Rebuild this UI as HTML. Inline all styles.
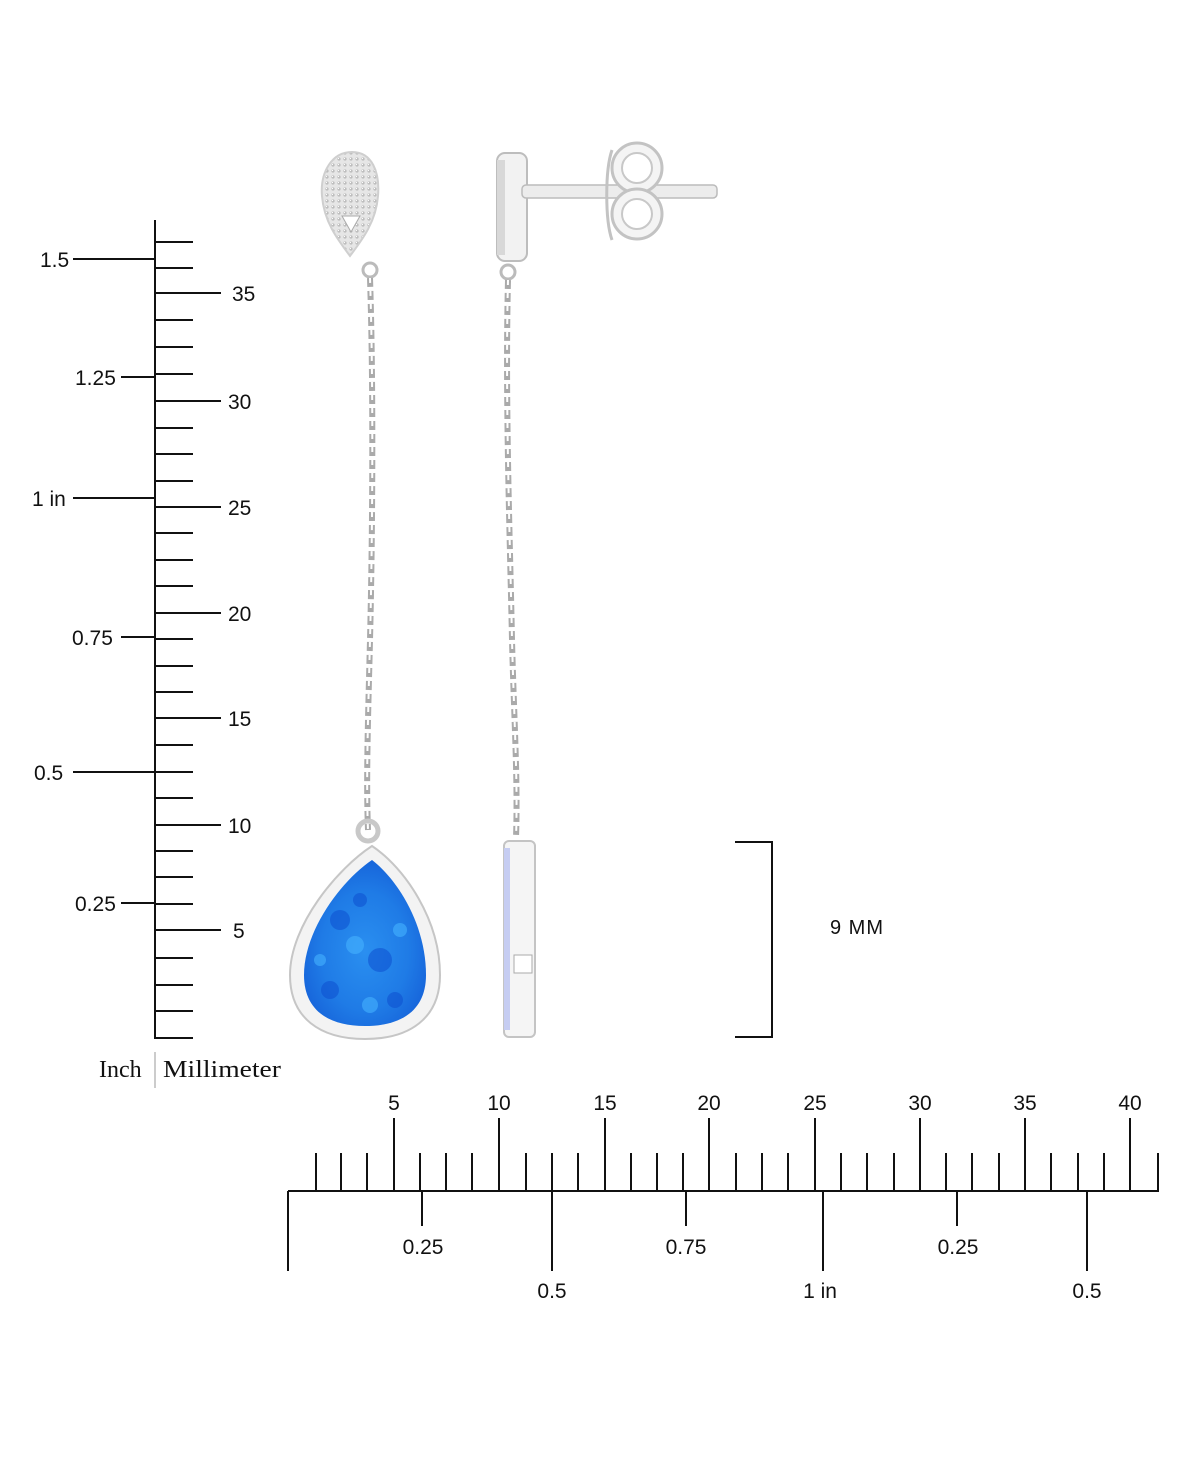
<!DOCTYPE html>
<html><head><meta charset="utf-8"><style>
html,body{margin:0;padding:0;background:#fff}
svg{display:block}
text{font-family:"Liberation Sans",sans-serif;fill:#111}
</style></head><body>
<svg width="1200" height="1467" viewBox="0 0 1200 1467" xmlns="http://www.w3.org/2000/svg">
<defs>
<radialGradient id="opal" cx="50%" cy="55%" r="60%">
<stop offset="0" stop-color="#2a8ff0"/><stop offset="0.6" stop-color="#1f7be6"/><stop offset="1" stop-color="#1560d8"/>
</radialGradient>
<pattern id="pave" width="6" height="6" patternUnits="userSpaceOnUse">
<rect width="6" height="6" fill="#e6e6e6"/><circle cx="3" cy="3" r="1.6" fill="#bdbdbd"/><circle cx="2.5" cy="2.5" r="0.6" fill="#fff"/>
</pattern>
</defs>

<g stroke="#111" stroke-width="2">
<line x1="155" y1="220" x2="155" y2="1039"/>
<g>
<line x1="155" y1="1038" x2="193" y2="1038"/><line x1="155" y1="1011" x2="193" y2="1011"/><line x1="155" y1="985" x2="193" y2="985"/><line x1="155" y1="958" x2="193" y2="958"/>
<line x1="155" y1="904" x2="193" y2="904"/><line x1="155" y1="877" x2="193" y2="877"/><line x1="155" y1="851" x2="193" y2="851"/>
<line x1="155" y1="798" x2="193" y2="798"/><line x1="155" y1="772" x2="193" y2="772"/><line x1="155" y1="745" x2="193" y2="745"/>
<line x1="155" y1="692" x2="193" y2="692"/><line x1="155" y1="666" x2="193" y2="666"/><line x1="155" y1="639" x2="193" y2="639"/>
<line x1="155" y1="586" x2="193" y2="586"/><line x1="155" y1="560" x2="193" y2="560"/><line x1="155" y1="533" x2="193" y2="533"/>
<line x1="155" y1="481" x2="193" y2="481"/><line x1="155" y1="454" x2="193" y2="454"/><line x1="155" y1="428" x2="193" y2="428"/>
<line x1="155" y1="374" x2="193" y2="374"/><line x1="155" y1="347" x2="193" y2="347"/><line x1="155" y1="320" x2="193" y2="320"/>
<line x1="155" y1="268" x2="193" y2="268"/><line x1="155" y1="242" x2="193" y2="242"/>
</g>
<line x1="155" y1="930" x2="221" y2="930"/><line x1="155" y1="825" x2="221" y2="825"/><line x1="155" y1="718" x2="221" y2="718"/>
<line x1="155" y1="613" x2="221" y2="613"/><line x1="155" y1="507" x2="221" y2="507"/><line x1="155" y1="401" x2="221" y2="401"/><line x1="155" y1="293" x2="221" y2="293"/>
<line x1="73" y1="259" x2="155" y2="259"/><line x1="121" y1="377" x2="155" y2="377"/><line x1="73" y1="498" x2="155" y2="498"/>
<line x1="121" y1="637" x2="155" y2="637"/><line x1="73" y1="772" x2="155" y2="772"/><line x1="121" y1="903" x2="155" y2="903"/>
</g>
<g font-size="21">
<text x="232" y="301">35</text><text x="228" y="409">30</text><text x="228" y="515">25</text><text x="228" y="621">20</text>
<text x="228" y="726">15</text><text x="228" y="833">10</text><text x="233" y="938">5</text>
<text x="40" y="267">1.5</text><text x="75" y="385">1.25</text><text x="32" y="506">1 in</text>
<text x="72" y="645">0.75</text><text x="34" y="780">0.5</text><text x="75" y="911">0.25</text>
</g>
<text x="99" y="1077" font-size="24" style="font-family:'Liberation Serif',serif">Inch</text>
<line x1="155" y1="1052" x2="155" y2="1088" stroke="#999" stroke-width="1"/>
<text x="163" y="1077" font-size="24" textLength="118" lengthAdjust="spacingAndGlyphs" style="font-family:'Liberation Serif',serif">Millimeter</text>

<g stroke="#111" stroke-width="2">
<line x1="288" y1="1191" x2="1159" y2="1191"/>
<line x1="288" y1="1191" x2="288" y2="1271"/>
<g>
<line x1="316" y1="1153" x2="316" y2="1191"/><line x1="341" y1="1153" x2="341" y2="1191"/><line x1="367" y1="1153" x2="367" y2="1191"/>
<line x1="420" y1="1153" x2="420" y2="1191"/><line x1="446" y1="1153" x2="446" y2="1191"/><line x1="472" y1="1153" x2="472" y2="1191"/>
<line x1="526" y1="1153" x2="526" y2="1191"/><line x1="552" y1="1153" x2="552" y2="1191"/><line x1="578" y1="1153" x2="578" y2="1191"/>
<line x1="631" y1="1153" x2="631" y2="1191"/><line x1="657" y1="1153" x2="657" y2="1191"/><line x1="683" y1="1153" x2="683" y2="1191"/>
<line x1="736" y1="1153" x2="736" y2="1191"/><line x1="762" y1="1153" x2="762" y2="1191"/><line x1="788" y1="1153" x2="788" y2="1191"/>
<line x1="841" y1="1153" x2="841" y2="1191"/><line x1="867" y1="1153" x2="867" y2="1191"/><line x1="894" y1="1153" x2="894" y2="1191"/>
<line x1="946" y1="1153" x2="946" y2="1191"/><line x1="972" y1="1153" x2="972" y2="1191"/><line x1="999" y1="1153" x2="999" y2="1191"/>
<line x1="1051" y1="1153" x2="1051" y2="1191"/><line x1="1078" y1="1153" x2="1078" y2="1191"/><line x1="1104" y1="1153" x2="1104" y2="1191"/>
<line x1="1158" y1="1153" x2="1158" y2="1191"/>
</g>
<line x1="394" y1="1118" x2="394" y2="1191"/><line x1="499" y1="1118" x2="499" y2="1191"/><line x1="605" y1="1118" x2="605" y2="1191"/>
<line x1="709" y1="1118" x2="709" y2="1191"/><line x1="815" y1="1118" x2="815" y2="1191"/><line x1="920" y1="1118" x2="920" y2="1191"/>
<line x1="1025" y1="1118" x2="1025" y2="1191"/><line x1="1130" y1="1118" x2="1130" y2="1191"/>
<line x1="422" y1="1191" x2="422" y2="1226"/><line x1="552" y1="1191" x2="552" y2="1271"/><line x1="686" y1="1191" x2="686" y2="1226"/>
<line x1="823" y1="1191" x2="823" y2="1271"/><line x1="957" y1="1191" x2="957" y2="1226"/><line x1="1087" y1="1191" x2="1087" y2="1271"/>
</g>
<g font-size="21" text-anchor="middle">
<text x="394" y="1110">5</text><text x="499" y="1110">10</text><text x="605" y="1110">15</text><text x="709" y="1110">20</text>
<text x="815" y="1110">25</text><text x="920" y="1110">30</text><text x="1025" y="1110">35</text><text x="1130" y="1110">40</text>
<text x="423" y="1254">0.25</text><text x="552" y="1298">0.5</text><text x="686" y="1254">0.75</text>
<text x="820" y="1298">1 in</text><text x="958" y="1254">0.25</text><text x="1087" y="1298">0.5</text>
</g>

<polyline points="735,842 772,842 772,1037 735,1037" fill="none" stroke="#111" stroke-width="2"/>
<text x="830" y="934" font-size="20" letter-spacing="1">9 MM</text>

<path d="M352 152 C372 152 380 172 378 196 C376 222 362 240 350 256 C338 240 324 222 322 196 C320 172 332 152 352 152Z" fill="url(#pave)" stroke="#cfcfcf" stroke-width="2"/>
<path d="M342 216 L360 216 L351 232Z" fill="#fff" stroke="#aaa"/>
<circle cx="370" cy="270" r="7" fill="none" stroke="#bbb" stroke-width="3"/>
<path d="M370 278 C374 400 372 560 370 640 C368 720 366 780 368 830" fill="none" stroke="#aaa" stroke-width="6" stroke-dasharray="9 4"/>
<path d="M370 278 C374 400 372 560 370 640 C368 720 366 780 368 830" fill="none" stroke="#fff" stroke-width="2" stroke-dasharray="5 8"/>
<circle cx="368" cy="831" r="10" fill="none" stroke="#c8c8c8" stroke-width="5"/>
<path d="M372 846 C405 868 440 920 440 975 C440 1018 410 1039 365 1039 C320 1039 290 1018 290 975 C290 925 338 868 372 846Z" fill="#f3f3f3" stroke="#c6c6c6" stroke-width="2"/>
<path d="M372 860 C398 880 426 925 426 975 C426 1010 402 1026 365 1026 C328 1026 304 1010 304 975 C304 930 342 880 372 860Z" fill="url(#opal)"/>
<g fill="#0d4fd0" opacity="0.55">
<circle cx="340" cy="920" r="10"/><circle cx="380" cy="960" r="12"/><circle cx="330" cy="990" r="9"/><circle cx="395" cy="1000" r="8"/><circle cx="360" cy="900" r="7"/>
</g>
<g fill="#45b2ff" opacity="0.6">
<circle cx="355" cy="945" r="9"/><circle cx="400" cy="930" r="7"/><circle cx="320" cy="960" r="6"/><circle cx="370" cy="1005" r="8"/>
</g>

<rect x="497" y="153" width="30" height="108" rx="8" fill="#f2f2f2" stroke="#bdbdbd" stroke-width="2"/>
<rect x="497" y="160" width="8" height="95" fill="#d8d8d8"/>
<rect x="522" y="185" width="195" height="13" rx="4" fill="#ececec" stroke="#bbb" stroke-width="1.5"/>
<circle cx="637" cy="168" r="25" fill="#f4f4f4" stroke="#c3c3c3" stroke-width="3"/>
<circle cx="637" cy="168" r="15" fill="#fff" stroke="#c8c8c8" stroke-width="2"/>
<circle cx="637" cy="214" r="25" fill="#f4f4f4" stroke="#c3c3c3" stroke-width="3"/>
<circle cx="637" cy="214" r="15" fill="#fff" stroke="#c8c8c8" stroke-width="2"/>
<path d="M612 150 C605 170 605 220 612 240" fill="none" stroke="#c3c3c3" stroke-width="3"/>
<circle cx="508" cy="272" r="7" fill="none" stroke="#bbb" stroke-width="3"/>
<path d="M508 280 C505 400 510 540 512 640 C514 720 518 780 516 838" fill="none" stroke="#aaa" stroke-width="6" stroke-dasharray="9 4"/>
<path d="M508 280 C505 400 510 540 512 640 C514 720 518 780 516 838" fill="none" stroke="#fff" stroke-width="2" stroke-dasharray="5 8"/>
<rect x="504" y="841" width="31" height="196" rx="5" fill="#f5f5f5" stroke="#c4c4c4" stroke-width="2"/>
<rect x="504" y="848" width="6" height="182" fill="#c6cdf2"/>
<rect x="514" y="955" width="18" height="18" fill="#fff" stroke="#aaa"/>
</svg>
</body></html>
